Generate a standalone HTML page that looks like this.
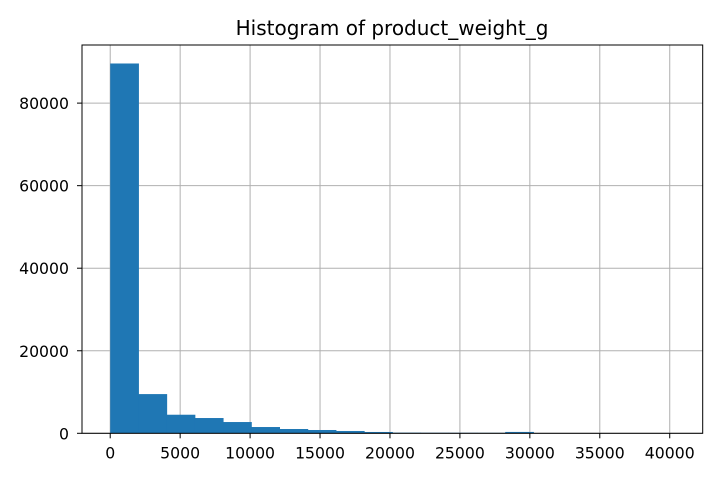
<!DOCTYPE html>
<html><head><meta charset="utf-8"><style>
body{margin:0;background:#fff}
svg{display:block;font-family:"DejaVu Sans","Liberation Sans",sans-serif}
</style></head><body>
<svg id="chart" width="720" height="480">
<rect width="720" height="480" fill="#fff"/>
<text x="392" y="35" text-anchor="middle" font-size="20" fill="#000">Histogram of product_weight_g</text>
<g id="grid"></g><g id="bars"></g><g id="axes"></g>
</svg>
<script>
const counts = [89600, 9500, 4500, 3700, 2730, 1520, 1040, 800, 560, 320, 150, 130, 120, 110, 330, 30, 20, 15, 10, 10];
const binStart = 0;
const binWidth = 2017;
const xTicks = [0, 5000, 10000, 15000, 20000, 25000, 30000, 35000, 40000];
const yTicks = [0, 20000, 40000, 60000, 80000];

const L=82,R=702.7,T=45,B=433.3;
const nBins=counts.length, xmax=binStart+binWidth*nBins;
const xmin0=binStart-(xmax-binStart)*0.05, xmax0=xmax+(xmax-binStart)*0.05;
const ymaxV=Math.max(...counts)*1.05;
const xs=v=>L+(v-xmin0)/(xmax0-xmin0)*(R-L);
const ys=v=>B-v/ymaxV*(B-T);
const NS='http://www.w3.org/2000/svg';
function mk(tag,attrs,parent){const e=document.createElementNS(NS,tag);for(const k in attrs)e.setAttribute(k,attrs[k]);parent.appendChild(e);return e;}
const grid=document.getElementById('grid'),bars=document.getElementById('bars'),axes=document.getElementById('axes');
xTicks.forEach(t=>{const x=xs(t);
 const g=mk('line',{x1:x,x2:x,y1:T,y2:B,stroke:'#b0b0b0','stroke-width':1},grid);
 
 
 const tk=mk('line',{x1:x,x2:x,y1:B,y2:B+5,stroke:'#000','stroke-width':1},axes);
 
 
 const tx=mk('text',{x:x,y:B+25,'text-anchor':'middle','font-size':15.7,fill:'#000'},axes);tx.textContent=t;
 
 
});
yTicks.forEach(t=>{const y=ys(t);
 const g=mk('line',{x1:L,x2:R,y1:y,y2:y,stroke:'#b0b0b0','stroke-width':1},grid);
 
 
 const tk=mk('line',{x1:L-5,x2:L,y1:y,y2:y,stroke:'#000','stroke-width':1},axes);
 
 
 const tx=mk('text',{x:L-13,y:y+6,'text-anchor':'end','font-size':15.7,fill:'#000'},axes);tx.textContent=t;
 
 
});
counts.forEach((c,i)=>{const x0=xs(binStart+i*binWidth),x1=xs(binStart+(i+1)*binWidth);
 const r=mk('rect',{x:x0,y:ys(c),width:x1-x0+0.5,height:B-ys(c),fill:'#1f77b4'},bars);
 
 
});
const fr=mk('rect',{x:L,y:T,width:R-L,height:B-T,fill:'none',stroke:'#000','stroke-width':1},axes);


</script>
</body></html>
